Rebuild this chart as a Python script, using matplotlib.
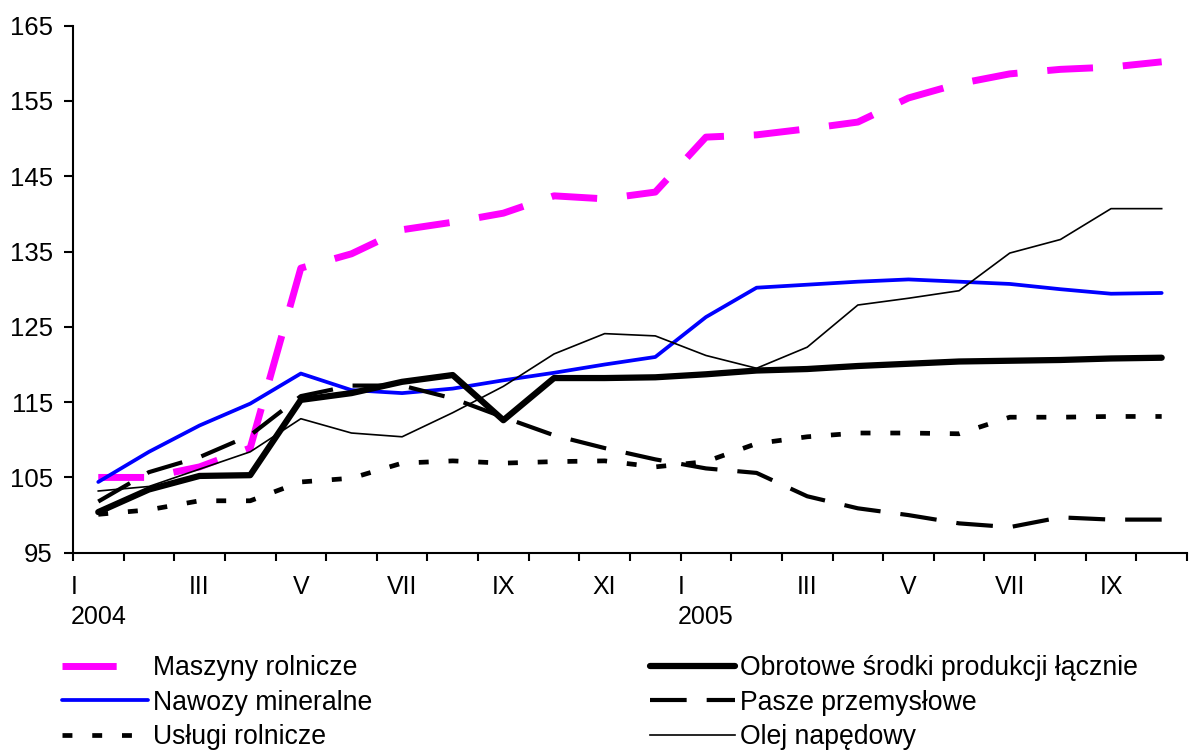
import matplotlib
matplotlib.use('Agg')
import matplotlib.pyplot as plt
from matplotlib.lines import Line2D
import numpy as np

plt.rcParams['font.family'] = ['Liberation Sans', 'DejaVu Sans']

# monthly index values, I 2004 .. X 2005
maszyny = [105.0, 105.0, 106.4, 108.9, 132.8, 134.7, 137.9, 138.9, 140.1, 142.4, 142.0,
           142.9, 150.2, 150.5, 151.3, 152.2, 155.4, 157.3, 158.6, 159.2, 159.5, 160.2]
nawozy = [104.4, 108.4, 111.9, 114.8, 118.8, 116.6, 116.2, 116.8, 117.9, 118.9, 120.0,
          121.0, 126.3, 130.2, 130.6, 131.0, 131.3, 131.0, 130.7, 130.0, 129.4, 129.5]
uslugi = [100.1, 100.7, 101.9, 101.9, 104.4, 104.9, 106.9, 107.2, 106.9, 107.1, 107.2,
          106.4, 107.1, 109.5, 110.4, 110.9, 110.9, 110.8, 113.0, 113.0, 113.1, 113.1]
obrotowe = [100.4, 103.4, 105.2, 105.3, 115.3, 116.2, 117.7, 118.6, 112.6, 118.2, 118.2,
            118.3, 118.7, 119.2, 119.4, 119.8, 120.1, 120.4, 120.5, 120.6, 120.8, 120.9]
pasze = [101.8, 105.7, 107.7, 110.6, 115.8, 117.2, 117.2, 115.5, 113.0, 110.6, 108.9,
         107.4, 106.2, 105.6, 102.5, 100.9, 100.0, 98.9, 98.4, 99.7, 99.4, 99.4]
olej = [103.2, 103.8, 106.1, 108.4, 112.8, 110.9, 110.4, 113.6, 117.1, 121.4, 124.1,
        123.8, 121.2, 119.5, 122.3, 127.9, 128.8, 129.8, 134.8, 136.6, 140.7, 140.7]

month_labels = ['I\n2004', 'III', 'V', 'VII', 'IX', 'XI', 'I\n2005', 'III', 'V', 'VII', 'IX']
names = ['Maszyny rolnicze', 'Nawozy mineralne', 'Usługi rolnicze',
         'Obrotowe środki produkcji łącznie', 'Pasze przemysłowe', 'Olej napędowy']

x = np.arange(len(maszyny))

fig = plt.figure(figsize=(11.92, 7.51), dpi=100)
ax = fig.add_axes([0.0612, 0.264, 0.9346, 0.7018])

l1, = ax.plot(x, maszyny, color='#FF00FF', lw=5, dashes=(6.6, 4.3), dash_capstyle='butt')
l2, = ax.plot(x, nawozy, color='#0000FF', lw=2.7, solid_capstyle='round')
l3, = ax.plot(x, uslugi, color='black', lw=3.4, dashes=(2.1, 4.2), dash_capstyle='butt')
l4, = ax.plot(x, obrotowe, color='black', lw=4.5, solid_capstyle='round')
l5, = ax.plot(x, pasze, color='black', lw=3.0, dashes=(8.8, 4.8), dash_capstyle='butt')
l6, = ax.plot(x, olej, color='black', lw=1.2)

ax.set_xlim(-0.5, len(x) - 0.5)
ax.set_ylim(95, 165)
ax.set_yticks(np.arange(95, 166, 10))

ax.set_xticks(np.arange(-0.5, len(x), 1.0))
ax.set_xticklabels([])
ax.set_xticks(x[::2], minor=True)
ax.set_xticklabels(month_labels, minor=True)
for t in ax.get_xticklabels(minor=True):
    t.set_multialignment('left')
    t.set_linespacing(1.3)

ax.spines['top'].set_visible(False)
ax.spines['right'].set_visible(False)
for s in ['left', 'bottom']:
    ax.spines[s].set_linewidth(1.5)

ax.tick_params(axis='y', direction='out', length=6.5, width=1.5, labelsize=18.5, pad=8)
ax.tick_params(axis='x', which='major', direction='out', length=5.8, width=1.5)
ax.tick_params(axis='x', which='minor', length=0, labelsize=18, pad=16)

# legend sample for the magenta series shows one long dash only
mag_handle = Line2D([], [], color='#FF00FF', lw=5, dashes=(7.8, 20), dash_capstyle='butt')
handles = [mag_handle, l2, l3, l4, l5, l6]
fig.legend(handles, names, loc='upper left', bbox_to_anchor=(0.052, 0.128), ncol=2,
           frameon=False, fontsize=19.2, handlelength=3.22, handletextpad=0.19,
           columnspacing=10.4, labelspacing=0.33, borderpad=0, borderaxespad=0)

fig.savefig('out.png', dpi=100)
